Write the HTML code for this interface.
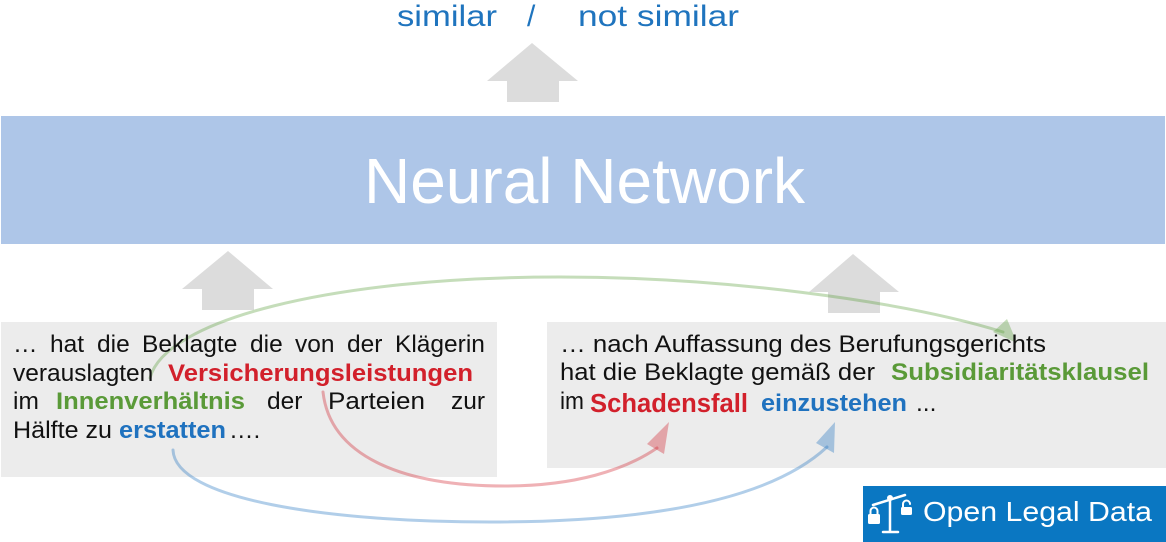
<!DOCTYPE html>
<html>
<head>
<meta charset="utf-8">
<style>
  html,body{margin:0;padding:0;background:#fff;}
  svg{display:block;}
  text{font-family:"Liberation Sans", Arial, sans-serif;}
</style>
</head>
<body>
<svg width="1166" height="542" viewBox="0 0 1166 542" xmlns="http://www.w3.org/2000/svg">
  <!-- top output text -->
  <g fill="#1f74be" font-size="30">
    <text x="397" y="26" textLength="100" lengthAdjust="spacingAndGlyphs">similar</text>
    <text x="527" y="26">/</text>
    <text x="578" y="26" textLength="161" lengthAdjust="spacingAndGlyphs">not similar</text>
  </g>

  <!-- gray arrows -->
  <g fill="#dcdcdc">
    <polygon points="532,43 578,81 559,81 559,102 507,102 507,81 487,81"/>
    <polygon points="228,251 273,289 254,289 254,310 202,310 202,289 182,289"/>
    <polygon points="853,254 899,292 880,292 880,313 828,313 828,292 809,292"/>
  </g>

  <!-- neural network box -->
  <rect x="1" y="116" width="1164" height="128" fill="#aec6e8"/>
  <text x="364" y="203" font-size="64" fill="#ffffff" textLength="441" lengthAdjust="spacingAndGlyphs">Neural Network</text>

  <!-- text boxes -->
  <rect x="1" y="322" width="496" height="155" fill="#ececec"/>
  <rect x="547" y="322" width="619" height="146" fill="#ececec"/>

  <!-- curves -->
  <g fill="none" stroke-width="3" stroke-linecap="round">
    <path d="M150,378 C165,320 330,277 560,277 C720,277 900,300 1003,332" stroke="#5a9e3a" stroke-opacity="0.35"/>
    <path d="M323,392 C330,455 400,486 505,486 C575,486 625,470 657,448" stroke="#d0202a" stroke-opacity="0.35"/>
    <path d="M173,450 C175,500 330,522 490,522 C650,522 770,500 827,447" stroke="#1f72bf" stroke-opacity="0.35"/>
  </g>
  <polygon points="1017,343 993,332 1007,319" fill="#5a9e3a" fill-opacity="0.35"/>
  <polygon points="669,422 647,444 664,454" fill="#d0202a" fill-opacity="0.35"/>
  <polygon points="835,422 816,443 834,453" fill="#1f72bf" fill-opacity="0.35"/>

  <!-- left text -->
  <g font-size="24.5" fill="#111111">
    <text y="352">
      <tspan x="13">…</tspan>
      <tspan x="50">hat</tspan>
      <tspan x="97">die</tspan>
      <tspan x="142">Beklagte</tspan>
      <tspan x="250">die</tspan>
      <tspan x="295">von</tspan>
      <tspan x="347">der</tspan>
      <tspan x="395">Klägerin</tspan>
    </text>
    <text x="13" y="381">verauslagten</text>
    <text x="168" y="381" font-weight="bold" fill="#d2202b" textLength="305" lengthAdjust="spacingAndGlyphs">Versicherungsleistungen</text>
    <text x="13" y="409">im</text>
    <text x="56" y="409" font-weight="bold" fill="#5a9a38" textLength="189" lengthAdjust="spacingAndGlyphs">Innenverhältnis</text>
    <text x="267" y="409">der</text>
    <text x="328" y="409" textLength="97" lengthAdjust="spacingAndGlyphs">Parteien</text>
    <text x="451" y="409">zur</text>
    <text x="13" y="438" textLength="99" lengthAdjust="spacingAndGlyphs">Hälfte zu</text>
    <text x="119" y="438" font-weight="bold" fill="#1f72bf" textLength="107" lengthAdjust="spacingAndGlyphs">erstatten</text>
    <text x="229" y="438">….</text>
  </g>

  <!-- right text -->
  <g font-size="24.5" fill="#111111">
    <text x="560" y="352" textLength="486" lengthAdjust="spacingAndGlyphs">… nach Auffassung des Berufungsgerichts</text>
    <text x="560" y="380" textLength="315" lengthAdjust="spacingAndGlyphs">hat die Beklagte gemäß der</text>
    <text x="891" y="380" font-weight="bold" fill="#5a9a38" textLength="258" lengthAdjust="spacingAndGlyphs">Subsidiaritätsklausel</text>
    <text x="560" y="409" textLength="24" lengthAdjust="spacingAndGlyphs">im</text>
    <text x="590" y="412" font-size="25.5" font-weight="bold" fill="#d2202b" textLength="158" lengthAdjust="spacingAndGlyphs">Schadensfall</text>
    <text x="761" y="411" font-weight="bold" fill="#1f72bf" textLength="146" lengthAdjust="spacingAndGlyphs">einzustehen</text>
    <text x="916" y="411">...</text>
  </g>

  <!-- logo -->
  <rect x="863" y="486" width="303" height="56" fill="#0a77c2"/>
  <g stroke="#ffffff" stroke-width="2.5" fill="none" stroke-linecap="round">
    <line x1="873" y1="505" x2="905" y2="495"/>
    <line x1="890" y1="498" x2="890" y2="531"/>
    <line x1="883" y1="532" x2="898" y2="532"/>
    <path d="M870.5,514 L870.5,511 A3.5,3.5 0 0 1 877.5,511 L877.5,514" stroke-width="2"/>
    <path d="M903,507 L903,504 A3.5,3.5 0 0 1 910,504" stroke-width="2"/>
  </g>
  <circle cx="890" cy="498" r="3" fill="#ffffff"/>
  <rect x="868" y="514" width="12" height="10" rx="1.5" fill="#ffffff"/>
  <rect x="901" y="507" width="11" height="8" rx="1.5" fill="#ffffff"/>
  <text x="923" y="521" font-size="28" fill="#ffffff" textLength="229" lengthAdjust="spacingAndGlyphs">Open Legal Data</text>
</svg>
</body>
</html>
